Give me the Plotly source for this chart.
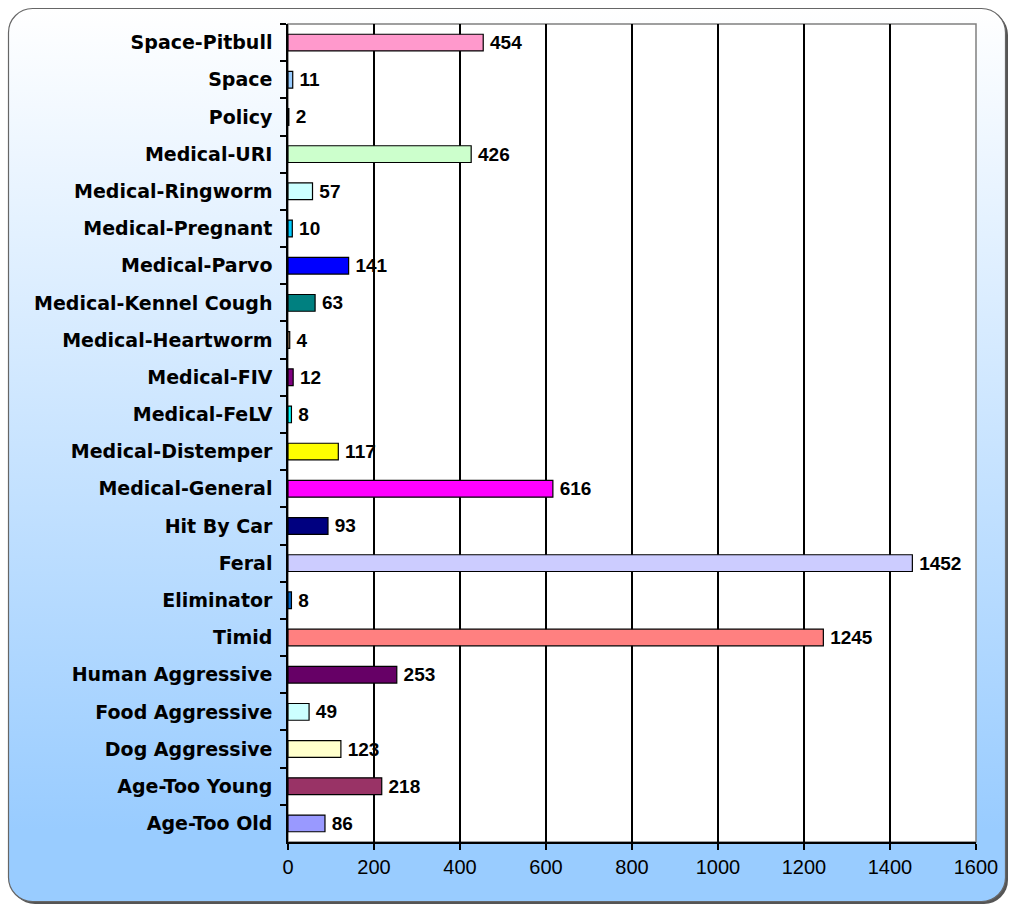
import plotly.graph_objects as go
import urllib.parse

categories = [
    "Space-Pitbull", "Space", "Policy", "Medical-URI", "Medical-Ringworm",
    "Medical-Pregnant", "Medical-Parvo", "Medical-Kennel Cough", "Medical-Heartworm",
    "Medical-FIV", "Medical-FeLV", "Medical-Distemper", "Medical-General",
    "Hit By Car", "Feral", "Eliminator", "Timid", "Human Aggressive",
    "Food Aggressive", "Dog Aggressive", "Age-Too Young", "Age-Too Old",
]
values = [454, 11, 2, 426, 57, 10, 141, 63, 4, 12, 8, 117, 616, 93, 1452, 8, 1245, 253, 49, 123, 218, 86]
bar_colors = [
    "#FF99CC", "#99CCFF", "#CC99FF", "#CCFFCC", "#CCFFFF", "#00CCFF", "#0000FF",
    "#008080", "#FFCC99", "#800080", "#00FFFF", "#FFFF00", "#FF00FF", "#000080",
    "#CCCCFF", "#0066CC", "#FF8080", "#660066", "#CCFFFF", "#FFFFCC", "#993366", "#9999FF",
]
x_ticks = [0, 200, 400, 600, 800, 1000, 1200, 1400, 1600]

W, H = 1009, 905
ML, MR, MT, MB = 288, 33, 24, 63
PW, PH = W - ML - MR, H - MT - MB

svg = f'''<svg xmlns="http://www.w3.org/2000/svg" width="{W}" height="{H}" viewBox="0 0 {W} {H}">
<defs><linearGradient id="g" x1="0" y1="0" x2="0" y2="1">
<stop offset="0" stop-color="#FFFFFF"/><stop offset="0.92" stop-color="#99CCFF"/><stop offset="1" stop-color="#99CCFF"/>
</linearGradient></defs>
<rect x="11" y="11" width="{W-12}" height="{H-12}" rx="24" ry="24" fill="#555555"/>
<rect x="8.5" y="8.5" width="{W-12}" height="{H-12}" rx="24" ry="24" fill="url(#g)" stroke="#666666" stroke-width="1.2"/>
</svg>'''
src = "data:image/svg+xml;charset=utf-8," + urllib.parse.quote(svg)

fig = go.Figure()
fig.add_trace(go.Bar(
    y=categories, x=values, orientation="h",
    marker=dict(color=bar_colors, line=dict(color="black", width=1.2)),
    text=["\u2009" + str(v) for v in values], textposition="outside",
    textfont=dict(family="Liberation Sans, Arial", size=19, color="black", weight="bold"),
    constraintext="none", cliponaxis=False, textangle=0,
    hoverinfo="skip",
))

fig.update_layout(
    width=W, height=H,
    margin=dict(l=ML, r=MR, t=MT, b=MB),
    paper_bgcolor="white", plot_bgcolor="white",
    bargap=0.55, showlegend=False,
    font=dict(family="Liberation Sans, Arial", color="black"),
    images=[dict(source=src, xref="paper", yref="paper",
                 x=-ML / PW, y=1 + MT / PH, sizex=W / PW, sizey=H / PH,
                 xanchor="left", yanchor="top", sizing="stretch", layer="below")],
    shapes=[dict(type="rect", xref="paper", yref="paper", x0=0, x1=1, y0=0, y1=1,
                 fillcolor="white", line=dict(color="#808080", width=1.5), layer="below")],
)
fig.update_xaxes(
    range=[0, 1600], tickvals=x_ticks, ticktext=[str(t) for t in x_ticks],
    showgrid=True, gridcolor="black", gridwidth=1.5,
    showline=True, linecolor="black", linewidth=1.5,
    ticks="outside", ticklen=6, tickcolor="black", tickwidth=1.5,
    tickfont=dict(family="Liberation Sans, Arial", size=20, color="black"),
    zeroline=False, fixedrange=True,
)
fig.update_yaxes(
    categoryorder="array", categoryarray=categories, autorange="reversed",
    showline=True, linecolor="black", linewidth=1.5,
    ticks="outside", tickson="boundaries", ticklen=6, tickcolor="black", tickwidth=1.5,
    tickfont=dict(family="DejaVu Sans", size=19, color="black", weight="bold"),
    showgrid=False, ticklabelstandoff=10, fixedrange=True,
)

fig.write_html("out.html", config={"displayModeBar": False},
               post_script="document.body.style.margin='0';document.body.style.overflow='hidden';")
